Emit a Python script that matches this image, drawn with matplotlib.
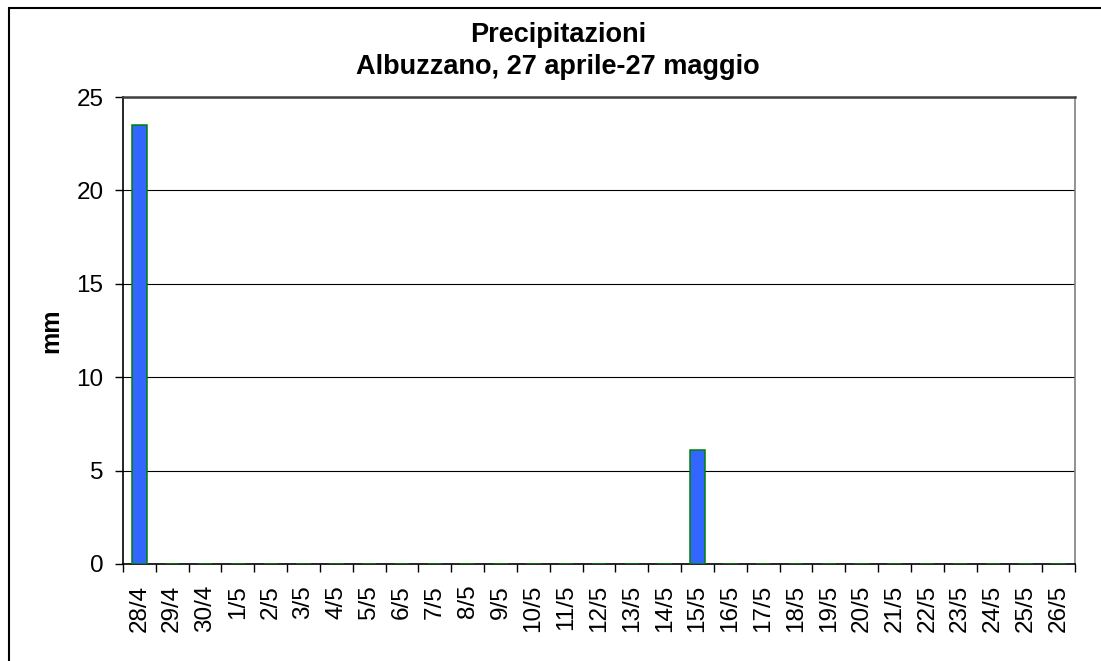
import matplotlib
matplotlib.use("Agg")
import matplotlib.pyplot as plt
from matplotlib.patches import Rectangle

giorni = ["28/4", "29/4", "30/4", "1/5", "2/5", "3/5", "4/5", "5/5", "6/5", "7/5",
          "8/5", "9/5", "10/5", "11/5", "12/5", "13/5", "14/5", "15/5", "16/5", "17/5",
          "18/5", "19/5", "20/5", "21/5", "22/5", "23/5", "24/5", "25/5", "26/5"]
pioggia = [23.5, 0, 0, 0, 0, 0, 0, 0, 0, 0,
           0, 0, 0, 0, 0, 0, 0, 6.1, 0, 0,
           0, 0, 0, 0, 0, 0, 0, 0, 0]
yticks = [0, 5, 10, 15, 20, 25]

plt.rcParams['font.family'] = ['Liberation Sans', 'DejaVu Sans']

W, H = 1101, 661
fig = plt.figure(figsize=(W / 100, H / 100), dpi=100)
ax = fig.add_axes([123 / W, 1 - 564 / H, 952 / W, 467 / H])

x = list(range(len(giorni)))
ax.bar(x, pioggia, width=0.44, color="#3366FF", edgecolor="#008000", linewidth=1.1, zorder=3)

ax.set_xlim(-0.5, len(giorni) - 0.5)
ax.set_ylim(0, 25)
ax.set_yticks(yticks)
ax.set_yticklabels([str(v) for v in yticks], fontsize=17.5)
ax.tick_params(axis="y", direction="out", length=6, width=1, pad=8)

# labels at category centres, tick marks at category borders
ax.set_xticks(x)
ax.set_xticklabels(giorni, rotation=90, fontsize=17.5)
ax.tick_params(axis="x", which="major", length=0, pad=15)
ax.set_xticks([i - 0.5 for i in range(len(giorni) + 1)], minor=True)
ax.tick_params(axis="x", which="minor", direction="out", length=6, width=1)

ax.grid(axis="y", color="#000000", linewidth=0.8, zorder=0)
ax.set_axisbelow(True)
for s in ["left", "bottom"]:
    ax.spines[s].set_color("black")
    ax.spines[s].set_linewidth(1.2)
ax.spines["top"].set_color("#404040")
ax.spines["top"].set_linewidth(1.8)
ax.spines["right"].set_color("#808080")
ax.spines["right"].set_linewidth(1.2)

fig.text(51.5 / W, 1 - 331 / H, "mm", rotation=90, ha="center", va="center",
         fontsize=18, fontweight="bold")

fig.text(558 / W, 1 - 42 / H, "Precipitazioni", ha="center", va="baseline",
         fontsize=19.5, fontweight="bold")
fig.text(558 / W, 1 - 74 / H, "Albuzzano, 27 aprile-27 maggio", ha="center", va="baseline",
         fontsize=19.5, fontweight="bold")

fig.patches.append(Rectangle((9 / W, -0.1), 1.2, 1.1 - 8 / H, transform=fig.transFigure,
                             fill=False, edgecolor="black", linewidth=1.5))

fig.savefig("out.png", dpi=100)
